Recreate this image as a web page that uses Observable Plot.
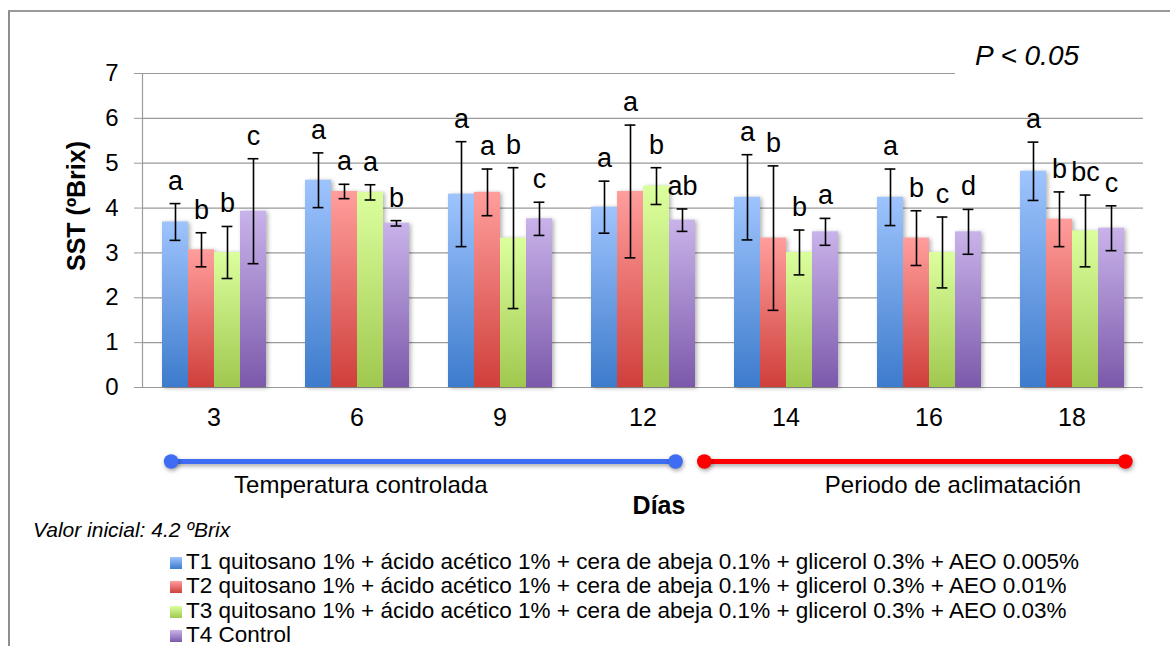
<!DOCTYPE html>
<html>
<head>
<meta charset="utf-8">
<script src="https://cdn.jsdelivr.net/npm/d3@7"></script>
<script src="https://cdn.jsdelivr.net/npm/@observablehq/plot@0.6"></script>
<style>
  html, body { margin: 0; padding: 0; background: #fff; }
  #wrap { position: relative; width: 1170px; height: 646px; overflow: hidden; font-family: "Liberation Sans", Arial, Helvetica, sans-serif; color: #000; }
  .border { position: absolute; left: 8px; top: 10px; width: 1400px; height: 900px; border-left: 2px solid #8e8e8e; border-top: 2px solid #9a9a9a; box-sizing: border-box; }
  .abs { position: absolute; white-space: nowrap; line-height: 1; }
  #main, #timeline { position: absolute; left: 0; }
  #main { top: 0; }
  #timeline { top: 440px; }
  .pbox { position: absolute; left: 955px; top: 30px; width: 230px; height: 50px; background: #fff; }
  .legend-row { position: absolute; left: 170px; white-space: nowrap; line-height: 1; font-size: 22.5px; }
  .sw { display: inline-block; width: 12px; height: 12px; margin-right: 4px; vertical-align: 0px; }
</style>
</head>
<body>
<div id="wrap">
  <div class="border"></div>
  <div id="main"></div>
  <div id="timeline"></div>
  <div class="pbox"></div>
  <div class="abs" id="ptext" style="left:975px; top:42px; font-size:28px; font-style:italic;">P &lt; 0.05</div>
  <div class="abs" id="ylabel" style="left:76px; top:206px; font-size:25px; font-weight:bold; transform: translate(-50%,-50%) rotate(-90deg);">SST (ºBrix)</div>
  <div class="abs" id="xlabel" style="left:659px; top:493px; font-size:25px; font-weight:bold; transform: translateX(-50%);">Días</div>
  <div class="abs" id="note" style="left:33px; top:519px; font-size:21px; font-style:italic;">Valor inicial: 4.2 ºBrix</div>
  <div id="legend"></div>
</div>
<script>
// ---------- data ----------
const days = [3, 6, 9, 12, 14, 16, 18];
const treatments = ["T1", "T2", "T3", "T4"];
const treatmentLabels = [
  "T1 quitosano 1% + ácido acético 1% + cera de abeja 0.1% + glicerol 0.3% + AEO 0.005%",
  "T2 quitosano 1% + ácido acético 1% + cera de abeja 0.1% + glicerol 0.3% + AEO 0.01%",
  "T3 quitosano 1% + ácido acético 1% + cera de abeja 0.1% + glicerol 0.3% + AEO 0.03%",
  "T4 Control"
];
const t1Mean = [3.69, 4.62, 4.31, 4.02, 4.24, 4.24, 4.82];
const t1Sd   = [0.41, 0.61, 1.17, 0.58, 0.95, 0.63, 0.65];
const t2Mean = [3.07, 4.37, 4.35, 4.37, 3.33, 3.33, 3.75];
const t2Sd   = [0.38, 0.16, 0.52, 1.48, 1.61, 0.61, 0.61];
const t3Mean = [3.01, 4.35, 3.33, 4.49, 3.01, 3.01, 3.49];
const t3Sd   = [0.58, 0.17, 1.57, 0.41, 0.50, 0.79, 0.80];
const t4Mean = [3.93, 3.66, 3.76, 3.73, 3.47, 3.47, 3.55];
const t4Sd   = [1.17, 0.06, 0.37, 0.25, 0.30, 0.50, 0.50];
const t1Letters = ["a", "a", "a", "a", "a", "a", "a"];
const t2Letters = ["b", "a", "a", "a", "b", "b", "b"];
const t3Letters = ["b", "a", "b", "b", "b", "c", "bc"];
const t4Letters = ["c", "b", "c", "ab", "a", "d", "c"];
const yTicks = [0, 1, 2, 3, 4, 5, 6, 7];
// phases along the category axis (in category-index units)
const phaseLabels = ["Temperatura controlada", "Periodo de aclimatación"];
const phaseStart = [0.22, 3.93];
const phaseEnd = [3.73, 6.86];
const phaseLabelAt = [1.54, 5.66];

// ---------- styles ----------
const gradTop = {T1: "#9ec4fd", T2: "#ff9e9c", T3: "#dcff9e", T4: "#c9b3ea"};
const gradBottom = {T1: "#3d7bcc", T2: "#cf3f3b", T3: "#a0c84f", T4: "#7c59ab"};
const phaseColors = ["#3e6cf2", "#ff0000"];
const FONT = '"Liberation Sans", Arial, Helvetica, sans-serif';

// ---------- table ----------
const means = [t1Mean, t2Mean, t3Mean, t4Mean];
const sds = [t1Sd, t2Sd, t3Sd, t4Sd];
const letters = [t1Letters, t2Letters, t3Letters, t4Letters];
const rows = days.flatMap((day, i) => treatments.map((t, j) => ({
  day, t, mean: means[j][i], sd: sds[j][i], letter: letters[j][i]
})));

const main = Plot.plot({
  width: 1170,
  height: 440,
  marginLeft: 139,
  marginRight: 25,
  marginTop: 73,
  marginBottom: 53,
  style: {fontFamily: FONT, background: "transparent", overflow: "visible", color: "#000"},
  fx: {domain: days, padding: 0},
  x: {domain: treatments, paddingInner: 0, paddingOuter: 0.737, axis: null},
  y: {domain: [0, 7]},
  color: {domain: treatments, range: treatments.map(t => `url(#grad-${t})`)},
  marks: [
    Plot.ruleY(yTicks, {stroke: "#9a9a9a", strokeWidth: 1.2}),
    Plot.barY(rows, {fx: "day", x: "t", y: "mean", fill: "t",
      imageFilter: "drop-shadow(2px 1px 2px rgba(0,0,0,0.30))"}),
    Plot.ruleX(rows, {fx: "day", x: "t", y1: d => d.mean - d.sd, y2: d => d.mean + d.sd, stroke: "#000", strokeWidth: 1.6}),
    Plot.tickY(rows, {fx: "day", x: "t", y: d => d.mean - d.sd, insetLeft: 7.6, insetRight: 7.6, stroke: "#000", strokeWidth: 1.6}),
    Plot.tickY(rows, {fx: "day", x: "t", y: d => d.mean + d.sd, insetLeft: 7.6, insetRight: 7.6, stroke: "#000", strokeWidth: 1.6}),
    Plot.text(rows, {fx: "day", x: "t", y: d => d.mean + d.sd, text: "letter", dy: -14, lineAnchor: "bottom", fontSize: 27, fill: "#000"}),
    Plot.axisY({ticks: yTicks, tickFormat: "d", tickSize: 8, tickPadding: 16, fontSize: 24, stroke: "#9a9a9a", fill: "#000", label: null}),
    Plot.axisFx({anchor: "bottom", tickSize: 0, tickPadding: 21, fontSize: 25, fill: "#000", label: null}),
    Plot.frame({anchor: "left", facetAnchor: "left", stroke: "#9a9a9a", strokeWidth: 1.2})
  ]
});
document.getElementById("main").appendChild(main);

// gradients for bars
const svgMain = main.tagName.toLowerCase() === "svg" ? main : main.querySelector("svg");
const defs = d3.select(svgMain).insert("defs", ":first-child");
treatments.forEach(t => {
  const g = defs.append("linearGradient").attr("id", `grad-${t}`).attr("x1", 0).attr("y1", 0).attr("x2", 0).attr("y2", 1);
  g.append("stop").attr("offset", "0%").attr("stop-color", gradTop[t]);
  g.append("stop").attr("offset", "100%").attr("stop-color", gradBottom[t]);
});

// timeline of periods, on the same category axis
const phases = phaseLabels.map((label, i) => ({label, start: phaseStart[i], end: phaseEnd[i], at: phaseLabelAt[i], color: phaseColors[i]}));
const phaseEnds = phases.flatMap(p => [{x: p.start, color: p.color}, {x: p.end, color: p.color}]);
const timeline = Plot.plot({
  width: 1170,
  height: 70,
  marginLeft: 139,
  marginRight: 25,
  marginTop: 0,
  marginBottom: 0,
  style: {fontFamily: FONT, background: "transparent", overflow: "visible"},
  x: {domain: [0, 7], axis: null},
  y: {domain: [0, 1], range: [21, 71], axis: null},
  marks: [
    Plot.link(phases, {x1: "start", x2: "end", y1: 0, y2: 0, stroke: d => d.color, strokeWidth: 5,
      imageFilter: "drop-shadow(1px 2px 2px rgba(0,0,0,0.35))"}),
    Plot.dot(phaseEnds, {x: "x", y: 0, r: 7.3, fill: d => d.color, stroke: null,
      imageFilter: "drop-shadow(1px 2px 2px rgba(0,0,0,0.35))"}),
    Plot.text(phases, {x: "at", y: 0, text: "label", dy: 31.5, lineAnchor: "bottom", fontSize: 24, fill: "#000"})
  ]
});
document.getElementById("timeline").appendChild(timeline);

// legend
const legend = document.getElementById("legend");
treatments.forEach((t, i) => {
  const row = document.createElement("div");
  row.className = "legend-row";
  row.style.top = (551 + i * 24.3) + "px";
  const sw = document.createElement("span");
  sw.className = "sw";
  sw.style.background = `linear-gradient(to bottom, ${gradTop[t]}, ${gradBottom[t]})`;
  row.appendChild(sw);
  row.appendChild(document.createTextNode(treatmentLabels[i]));
  legend.appendChild(row);
});
</script>
</body>
</html>
